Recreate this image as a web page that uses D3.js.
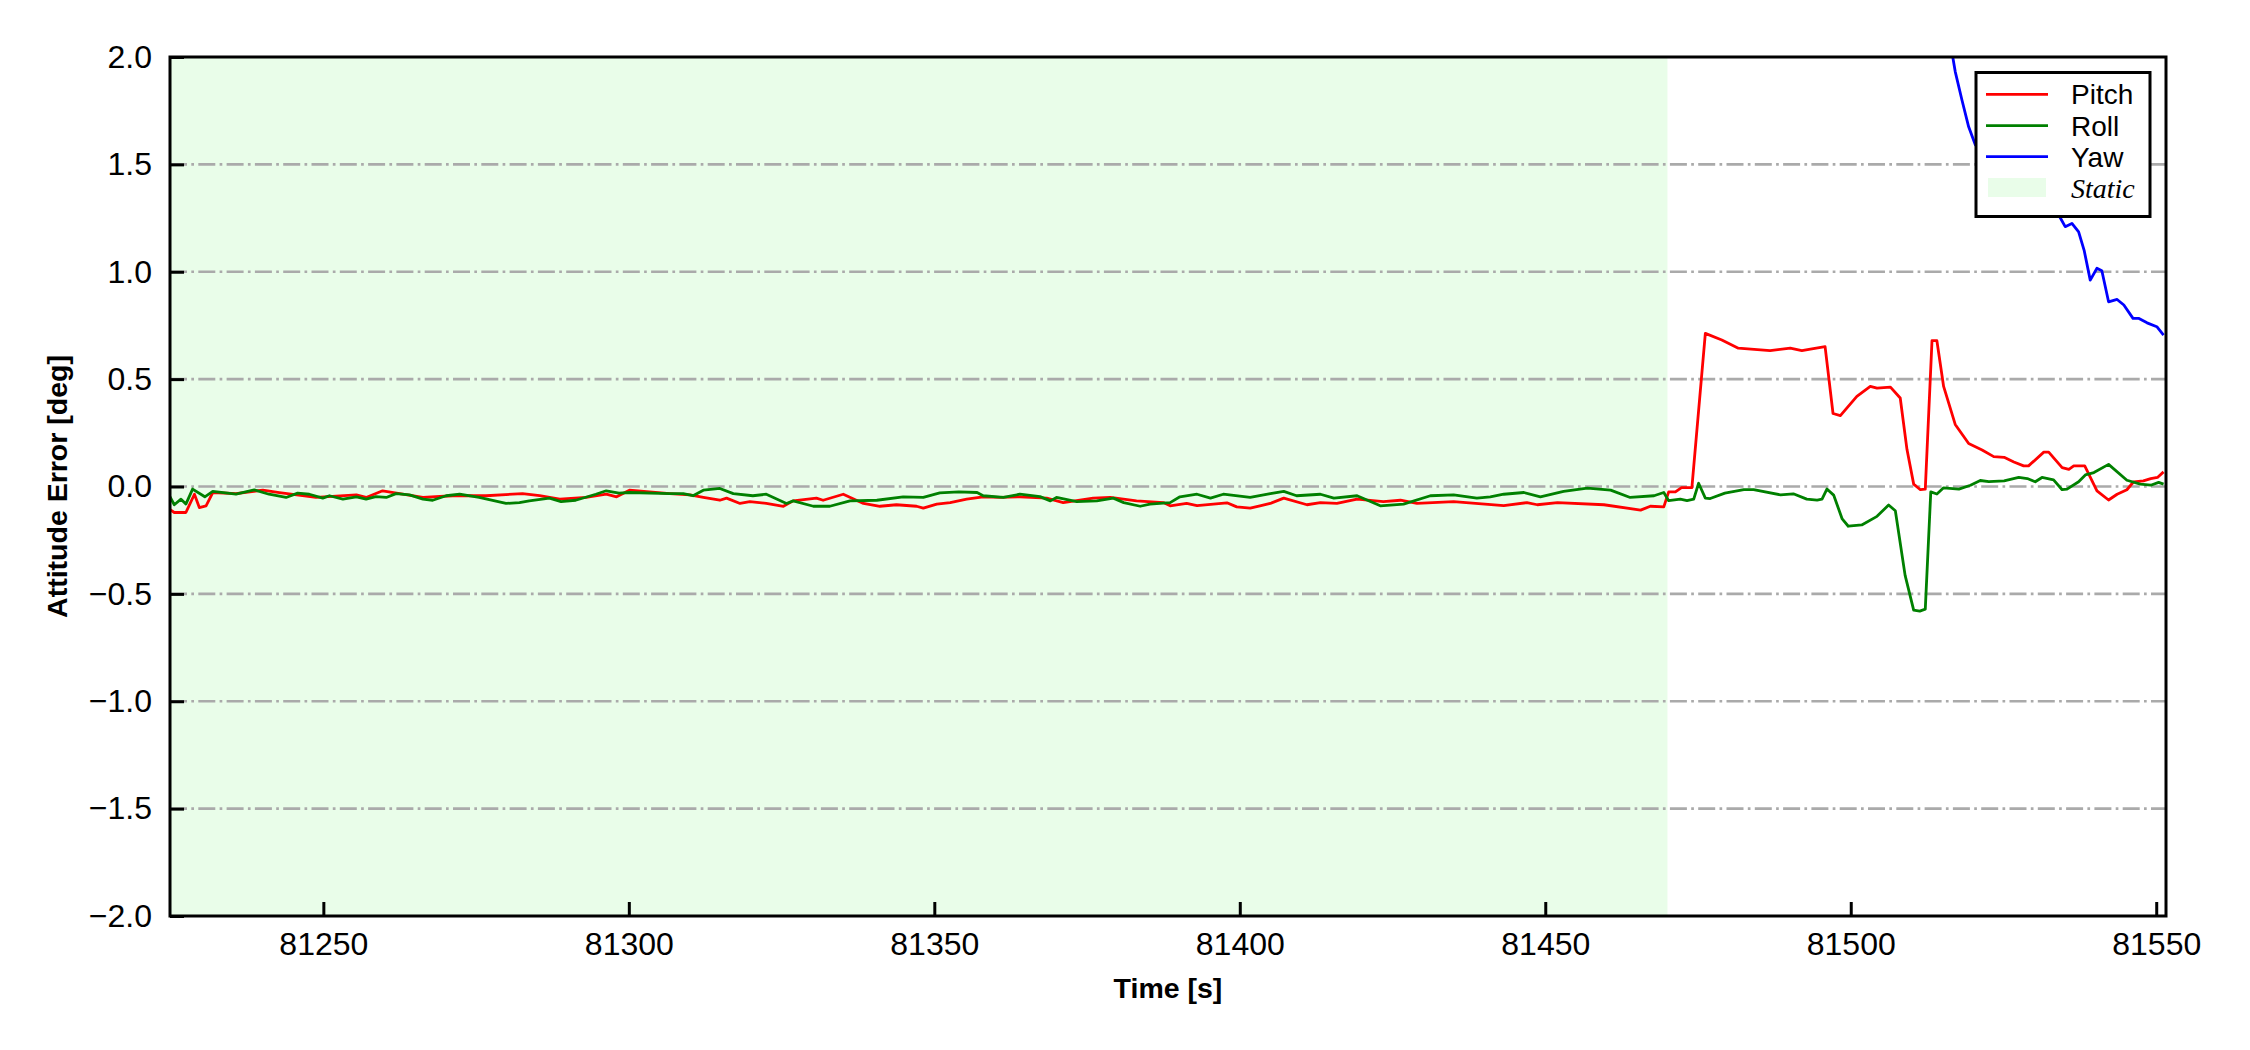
<!doctype html>
<html>
<head>
    <title>Attitude Error</title>
    <meta charset="utf-8">
    <script src="https://d3js.org/d3.v7.min.js"></script>
    <style>
        body { margin: 0; background: #fff; }
        svg { display: block; font-family: "Liberation Sans", Arial, sans-serif; }
    </style>
</head>
<body>
    <div id="viz">
      <svg width="2250" height="1050"></svg>
    </div>
    <script>
        // time [s], error [deg]
        var pitch = [
          [81224.8,-0.106],[81225.6,-0.121],[81227.5,-0.121],[81228.9,-0.036],[81229.7,-0.098],[81230.8,-0.090],
          [81231.9,-0.028],[81235.7,-0.033],[81240.1,-0.017],[81242.8,-0.028],[81248.8,-0.051],[81255.4,-0.039],
          [81257.0,-0.051],[81259.7,-0.020],[81263.0,-0.036],[81266.3,-0.051],[81271.2,-0.043],[81276.6,-0.043],
          [81282.6,-0.033],[81285.4,-0.043],[81288.7,-0.059],[81293.0,-0.051],[81296.3,-0.036],[81298.0,-0.048],
          [81300.1,-0.017],[81306.7,-0.033],[81310.0,-0.039],[81312.2,-0.051],[81314.9,-0.064],[81316.0,-0.054],
          [81318.2,-0.079],[81319.8,-0.070],[81322.5,-0.079],[81325.3,-0.092],[81326.9,-0.067],[81330.7,-0.054],
          [81331.8,-0.064],[81335.1,-0.036],[81338.4,-0.079],[81341.1,-0.092],[81343.8,-0.085],[81347.1,-0.092],
          [81348.2,-0.101],[81350.4,-0.082],[81352.6,-0.075],[81355.3,-0.059],[81358.0,-0.048],[81360.8,-0.051],
          [81364.0,-0.048],[81368.4,-0.054],[81371.1,-0.075],[81376.0,-0.054],[81378.8,-0.051],[81383.1,-0.067],
          [81387.5,-0.075],[81388.6,-0.090],[81391.3,-0.079],[81393.0,-0.089],[81397.9,-0.076],[81399.5,-0.095],
          [81401.7,-0.101],[81403.3,-0.090],[81405.0,-0.079],[81407.2,-0.054],[81411.0,-0.085],[81413.2,-0.075],
          [81415.9,-0.079],[81419.2,-0.059],[81423.5,-0.070],[81426.3,-0.064],[81429.0,-0.079],[81435.0,-0.070],
          [81443.2,-0.089],[81447.0,-0.075],[81448.7,-0.085],[81452.0,-0.075],[81459.6,-0.085],[81465.6,-0.110],
          [81467.2,-0.092],[81469.4,-0.095],[81470.2,-0.025],[81471.3,-0.025],[81472.3,-0.005],[81474.0,-0.005],
          [81476.2,0.713],[81478.9,0.682],[81481.6,0.644],[81486.8,0.633],[81490.1,0.644],[81492.0,0.633],
          [81493.4,0.640],[81495.8,0.651],[81497.1,0.340],[81498.3,0.330],[81501.0,0.420],[81503.2,0.466],
          [81504.3,0.458],[81506.5,0.463],[81508.1,0.412],[81509.2,0.173],[81510.3,0.011],[81511.4,-0.015],
          [81512.2,-0.012],[81513.3,0.679],[81514.1,0.679],[81515.2,0.466],[81517.1,0.289],[81519.3,0.200],
          [81521.5,0.170],[81523.4,0.139],[81525.1,0.136],[81526.7,0.114],[81528.3,0.096],[81529.1,0.096],
          [81531.6,0.160],[81532.4,0.160],[81534.6,0.088],[81535.7,0.080],[81536.5,0.096],[81538.3,0.096],
          [81540.3,-0.020],[81542.2,-0.063],[81543.6,-0.036],[81545.2,-0.015],[81546.3,0.022],[81547.9,0.026],
          [81549.1,0.037],[81550.2,0.042],[81551.2,0.068]
        ];
        var roll = [
          [81224.8,-0.043],[81225.6,-0.085],[81226.7,-0.059],[81227.5,-0.082],[81228.6,-0.012],[81230.6,-0.048],
          [81231.9,-0.023],[81235.7,-0.036],[81238.7,-0.016],[81241.1,-0.036],[81243.9,-0.051],[81245.8,-0.031],
          [81247.7,-0.036],[81249.9,-0.054],[81251.0,-0.043],[81253.2,-0.059],[81255.4,-0.048],[81257.0,-0.059],
          [81258.6,-0.047],[81260.3,-0.051],[81261.9,-0.033],[81264.1,-0.039],[81266.3,-0.059],[81267.9,-0.064],
          [81270.1,-0.043],[81272.3,-0.036],[81275.5,-0.051],[81279.9,-0.079],[81282.1,-0.075],[81283.7,-0.067],
          [81287.0,-0.054],[81288.9,-0.070],[81291.3,-0.064],[81294.6,-0.036],[81296.3,-0.020],[81298.4,-0.031],
          [81300.1,-0.028],[81306.7,-0.033],[81308.9,-0.033],[81310.5,-0.043],[81312.2,-0.017],[81314.9,-0.009],
          [81317.1,-0.033],[81320.3,-0.043],[81322.5,-0.036],[81325.8,-0.079],[81326.9,-0.067],[81330.2,-0.092],
          [81332.9,-0.092],[81336.2,-0.067],[81340.6,-0.064],[81344.9,-0.048],[81348.2,-0.051],[81350.9,-0.030],
          [81354.0,-0.025],[81357.0,-0.028],[81358.0,-0.043],[81361.3,-0.051],[81364.0,-0.036],[81367.3,-0.047],
          [81369.0,-0.067],[81370.0,-0.051],[81373.3,-0.070],[81376.6,-0.067],[81379.3,-0.054],[81381.0,-0.075],
          [81383.7,-0.092],[81385.3,-0.082],[81388.6,-0.075],[81390.2,-0.048],[81393.0,-0.036],[81395.2,-0.054],
          [81397.3,-0.036],[81401.7,-0.051],[81405.0,-0.033],[81407.2,-0.023],[81409.3,-0.043],[81413.2,-0.036],
          [81415.4,-0.054],[81419.2,-0.043],[81423.0,-0.090],[81426.8,-0.082],[81431.2,-0.043],[81435.0,-0.039],
          [81438.8,-0.054],[81441.0,-0.048],[81443.2,-0.036],[81446.5,-0.028],[81449.2,-0.048],[81453.0,-0.023],
          [81456.9,-0.008],[81460.7,-0.017],[81463.9,-0.051],[81467.8,-0.043],[81469.4,-0.028],[81470.2,-0.066],
          [81472.1,-0.059],[81473.2,-0.066],[81474.3,-0.059],[81475.1,0.015],[81476.2,-0.054],[81477.0,-0.056],
          [81479.4,-0.031],[81482.5,-0.015],[81484.1,-0.015],[81488.5,-0.039],[81490.6,-0.034],[81492.8,-0.059],
          [81494.5,-0.063],[81495.3,-0.059],[81496.1,-0.012],[81497.2,-0.040],[81498.6,-0.151],[81499.6,-0.185],
          [81501.8,-0.179],[81504.3,-0.139],[81506.2,-0.086],[81507.3,-0.113],[81508.9,-0.414],[81510.3,-0.576],
          [81511.3,-0.580],[81512.2,-0.571],[81513.1,-0.025],[81514.1,-0.035],[81515.2,-0.006],[81517.7,-0.012],
          [81519.6,0.006],[81521.2,0.028],[81522.6,0.023],[81525.1,0.026],[81527.5,0.042],[81528.9,0.037],
          [81530.2,0.022],[81531.3,0.042],[81533.2,0.031],[81534.6,-0.015],[81535.4,-0.012],[81537.3,0.022],
          [81538.4,0.054],[81539.8,0.065],[81542.2,0.103],[81545.2,0.029],[81547.4,0.011],[81549.1,0.006],
          [81550.4,0.019],[81551.2,0.011]
        ];
        var yaw = [
          [81516.4,2.05],[81517.1,1.932],[81518.2,1.800],[81519.3,1.675],[81520.4,1.590],[81534.2,1.256],
          [81535.1,1.210],[81536.2,1.225],[81537.3,1.186],[81538.2,1.100],[81539.2,0.961],[81540.3,1.016],
          [81541.1,1.005],[81542.2,0.860],[81543.6,0.871],[81544.7,0.845],[81546.2,0.783],[81547.1,0.783],
          [81548.5,0.762],[81550.1,0.744],[81551.2,0.705]
        ];
        var staticSpan = [81224.9, 81470];
        var xTicks = [81250, 81300, 81350, 81400, 81450, 81500, 81550];
        var yTicks = [-2.0, -1.5, -1.0, -0.5, 0.0, 0.5, 1.0, 1.5, 2.0];
        var seriesNames = ["Pitch", "Roll", "Yaw"];
        var seriesColors = ["#ff0000", "#008000", "#0000ff"];
        var staticColor = "#e9fde9";

        var svg = d3.select("svg");
        var pl = 170, pr = 2166, pt = 57, pb = 916;

        var x = d3.scaleLinear().domain([81224.9, 81551.6]).range([pl, pr]);
        var y = d3.scaleLinear().domain([-2, 2]).range([pb, pt]);

        svg.append("rect").attr("width", 2250).attr("height", 1050).attr("fill", "#fff");

        svg.append("clipPath").attr("id", "plotclip")
          .append("rect")
          .attr("x", pl).attr("y", pt)
          .attr("width", pr - pl).attr("height", pb - pt);

        // static shading
        svg.append("rect")
          .attr("x", x(staticSpan[0]))
          .attr("y", pt)
          .attr("width", x(staticSpan[1]) - x(staticSpan[0]))
          .attr("height", pb - pt)
          .attr("fill", staticColor)
          .attr("clip-path", "url(#plotclip)");

        // grid
        svg.append("g")
          .selectAll("line")
          .data(yTicks.filter(function(d) { return Math.abs(d) < 2; }))
          .enter()
          .append("line")
          .attr("x1", pl).attr("x2", pr)
          .attr("y1", function(d) { return y(d); })
          .attr("y2", function(d) { return y(d); })
          .style("stroke", "#aaaaaa")
          .style("stroke-width", 2.6)
          .style("stroke-dasharray", "17,4.3,2.7,4.3");

        var line = d3.line()
          .x(function(d) { return x(d[0]); })
          .y(function(d) { return y(d[1]); });

        var lines = svg.append("g").attr("clip-path", "url(#plotclip)");
        [pitch, roll, yaw].forEach(function(s, i) {
          lines.append("path")
            .datum(s)
            .attr("d", line)
            .style("fill", "none")
            .style("stroke", seriesColors[i])
            .style("stroke-width", 2.8)
            .style("stroke-linejoin", "round");
        });

        // axes
        var xAxis = svg.append("g")
          .attr("transform", "translate(0," + pb + ")")
          .call(d3.axisBottom(x).tickValues(xTicks).tickFormat(d3.format("d"))
            .tickSize(-14).tickPadding(16));
        var yAxis = svg.append("g")
          .attr("transform", "translate(" + pl + ",0)")
          .call(d3.axisLeft(y).tickValues(yTicks).tickFormat(d3.format(".1f"))
            .tickSize(-14).tickPadding(18));

        [xAxis, yAxis].forEach(function(a) {
          a.select(".domain").remove();
          a.selectAll(".tick line").style("stroke", "#000").style("stroke-width", 3);
          a.selectAll(".tick text")
            .style("font-family", "'Liberation Sans', Arial, sans-serif")
            .style("font-size", "32px")
            .style("fill", "#000");
        });

        // frame
        svg.append("rect")
          .attr("x", pl).attr("y", pt)
          .attr("width", pr - pl).attr("height", pb - pt)
          .style("fill", "none")
          .style("stroke", "#000")
          .style("stroke-width", 3);

        // axis labels
        svg.append("text")
          .attr("x", (pl + pr) / 2).attr("y", 998)
          .attr("text-anchor", "middle")
          .style("font-size", "28.5px")
          .style("font-weight", "bold")
          .text("Time [s]");

        svg.append("text")
          .attr("transform", "translate(67," + ((pt + pb) / 2) + ") rotate(-90)")
          .attr("text-anchor", "middle")
          .style("font-size", "28.5px")
          .style("font-weight", "bold")
          .text("Attitude Error [deg]");

        // legend
        var lg = svg.append("g");
        lg.append("rect")
          .attr("x", 1976).attr("y", 72.5)
          .attr("width", 174).attr("height", 144)
          .style("fill", "#fff")
          .style("stroke", "#000")
          .style("stroke-width", 3);
        var rowY = [94.3, 125.7, 156.7, 188];
        seriesNames.forEach(function(n, i) {
          lg.append("line")
            .attr("x1", 1986).attr("x2", 2048)
            .attr("y1", rowY[i]).attr("y2", rowY[i])
            .style("stroke", seriesColors[i])
            .style("stroke-width", 2.8);
          lg.append("text")
            .attr("x", 2071).attr("y", rowY[i]).attr("dy", "0.36em")
            .style("font-size", "28px")
            .text(n);
        });
        lg.append("rect")
          .attr("x", 1988).attr("y", 178)
          .attr("width", 58).attr("height", 19)
          .style("fill", staticColor);
        lg.append("text")
          .attr("x", 2071).attr("y", rowY[3]).attr("dy", "0.36em")
          .style("font-family", "'Liberation Serif', 'Times New Roman', serif")
          .style("font-style", "italic")
          .style("font-size", "28px")
          .text("Static");
    </script>
</body>
</html>
